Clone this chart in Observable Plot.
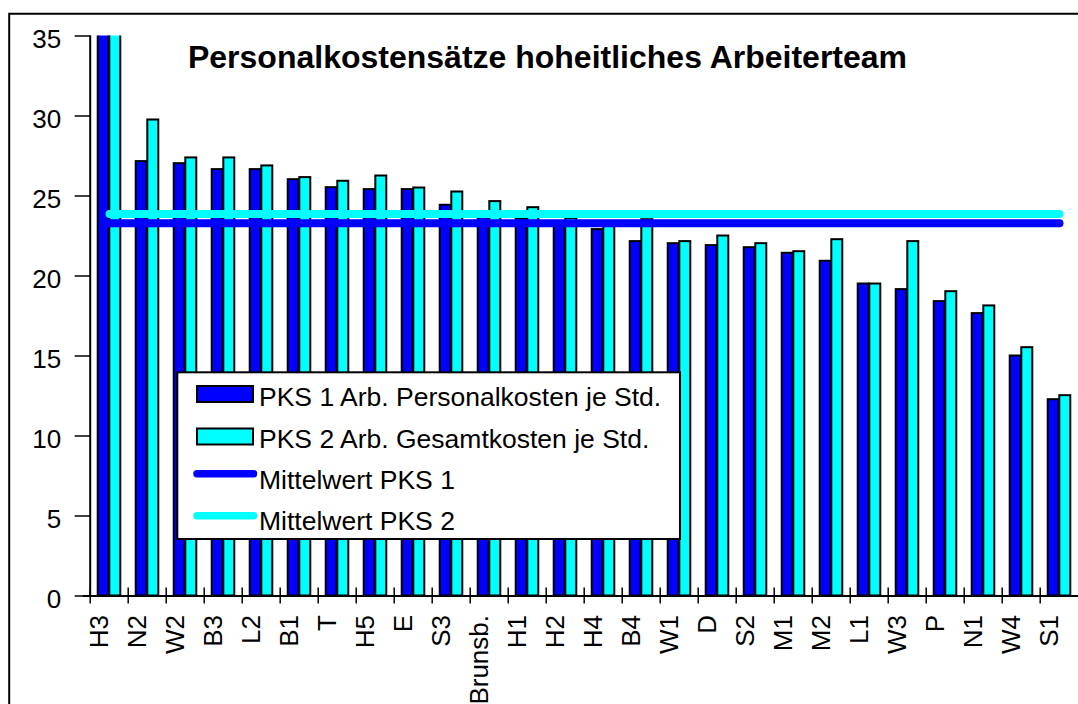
<!DOCTYPE html>
<html><head><meta charset="utf-8">
<script src="https://cdn.jsdelivr.net/npm/d3@7"></script>
<script src="https://cdn.jsdelivr.net/npm/@observablehq/plot@0.6"></script>
<style>
html,body{margin:0;padding:0;background:#fff;overflow:hidden;width:1078px;height:704px;}
#wrap{position:relative;width:1078px;height:704px;overflow:hidden;background:#fff;}
#chart{position:absolute;left:0;top:0;}
#overlay{position:absolute;left:0;top:0;overflow:visible;}
</style></head><body><div id="wrap"><div id="chart"></div><svg id="overlay" width="1078" height="704"></svg></div>
<script>
// ---- data ----
const categories = ["H3","N2","W2","B3","L2","B1","T","H5","E","S3","Brunsb.","H1","H2","H4","B4","W1","D","S2","M1","M2","L1","W3","P","N1","W4","S1"];
// H3 values exceed the axis (clipped at 35); estimated from the mean lines
const pks1 = [45.7, 27.15, 27.02, 26.65, 26.65, 26.02, 25.52, 25.4, 25.4, 24.42, 23.65, 23.55, 23.4, 22.9, 22.15, 22.02, 21.9, 21.77, 21.42, 20.92, 19.5, 19.15, 18.4, 17.65, 15.0, 12.27];
const pks2 = [43.5, 29.75, 27.38, 27.38, 26.88, 26.15, 25.92, 26.25, 25.5, 25.25, 24.65, 24.27, 23.6, 23.3, 23.52, 22.15, 22.5, 22.02, 21.52, 22.27, 19.5, 22.15, 19.02, 18.13, 15.52, 12.52];
const yTicks = [0, 5, 10, 15, 20, 25, 30, 35];
const seriesNames = ["PKS 1 Arb. Personalkosten je Std.", "PKS 2 Arb. Gesamtkosten je Std.", "Mittelwert PKS 1", "Mittelwert PKS 2"];
const titleText = "Personalkostensätze hoheitliches Arbeiterteam";

const BLUE = "#0000FF", CYAN = "#00FFFF";
const FONT = "'Liberation Sans', Arial, Helvetica, sans-serif";

const mean1 = d3.mean(pks1);
const mean2 = d3.mean(pks2);

const rows = categories.map((c, i) => ({cat: c, v1: pks1[i], v2: pks2[i]}));
const meanRows = categories.map(c => ({cat: c, m1: mean1, m2: mean2}));

const W = 1090, H = 704, mL = 82.7, mR = 3.7, mT = 35.5, mB = 108.5;
const step = (W - mL - mR) / categories.length;

const plot = Plot.plot({
  width: W, height: H,
  marginLeft: mL, marginRight: mR, marginTop: mT, marginBottom: mB,
  style: {fontFamily: FONT, fontSize: "26px", color: "#000", background: "transparent", maxWidth: "none", overflow: "visible"},
  x: {type: "band", domain: categories, padding: 0},
  y: {domain: [0, 35]},
  marks: [
    Plot.barY(rows, {x: "cat", y: "v1", fill: BLUE, stroke: "#000", strokeWidth: 2, insetLeft: 0.2 * step, insetRight: 0.5 * step, clip: true}),
    Plot.barY(rows, {x: "cat", y: "v2", fill: CYAN, stroke: "#000", strokeWidth: 2, insetLeft: 0.5 * step, insetRight: 0.2 * step, clip: true}),
    Plot.ruleY([0], {stroke: "#000", strokeWidth: 2}),
    Plot.ruleX([categories[0]], {dx: -step / 2, stroke: "#000", strokeWidth: 2}),
    Plot.lineY(meanRows, {x: "cat", y: "m1", stroke: BLUE, strokeWidth: 8, strokeLinecap: "round"}),
    Plot.lineY(meanRows, {x: "cat", y: "m2", stroke: CYAN, strokeWidth: 8, strokeLinecap: "round"}),
    Plot.axisY({ticks: yTicks, tickSize: 0, tickPadding: 22, dy: 4, fontSize: 26, label: null}),
    Plot.axisY({ticks: yTicks, tickSize: 16, dx: 8, fill: "none", strokeWidth: 1.5, label: null}),
    Plot.axisX({tickSize: 16, dx: -step / 2, dy: -8, fill: "none", strokeWidth: 1.5, label: null}),
    Plot.axisX({tickSize: 0, tickPadding: 19, tickRotate: -90, dx: -10, fontSize: 26, label: null})
  ]
});
document.getElementById("chart").appendChild(plot);

// ---- overlay: outer chart border, title, legend ----
const ov = d3.select("#overlay");
ov.append("path").attr("d", "M9.2,2000 V13.7 H2000").attr("fill", "none").attr("stroke", "#000").attr("stroke-width", 2);

ov.append("text").attr("x", 547.5).attr("y", 67.8).attr("text-anchor", "middle")
  .attr("font-family", FONT).attr("font-weight", "bold").attr("font-size", 32).attr("fill", "#000")
  .text(titleText);

const lg = ov.append("g").attr("font-family", FONT).attr("font-size", 26.5).attr("fill", "#000");
lg.append("rect").attr("x", 177.3).attr("y", 372.3).attr("width", 502.7).attr("height", 166.7)
  .attr("fill", "#fff").attr("stroke", "#000").attr("stroke-width", 2);
// bar swatches
lg.append("rect").attr("x", 197).attr("y", 386).attr("width", 56).attr("height", 16).attr("fill", BLUE).attr("stroke", "#000").attr("stroke-width", 2);
lg.append("rect").attr("x", 197).attr("y", 428.5).attr("width", 56).attr("height", 16).attr("fill", CYAN).attr("stroke", "#000").attr("stroke-width", 2);
// line swatches
lg.append("line").attr("x1", 197).attr("x2", 253.5).attr("y1", 473.7).attr("y2", 473.7).attr("stroke", BLUE).attr("stroke-width", 7.5).attr("stroke-linecap", "round");
lg.append("line").attr("x1", 197).attr("x2", 253.5).attr("y1", 515.7).attr("y2", 515.7).attr("stroke", CYAN).attr("stroke-width", 7.5).attr("stroke-linecap", "round");
const baselines = [405.7, 447.7, 489.3, 530];
seriesNames.forEach((s, i) => {
  lg.append("text").attr("x", 259).attr("y", baselines[i]).text(s);
});
</script></body></html>
